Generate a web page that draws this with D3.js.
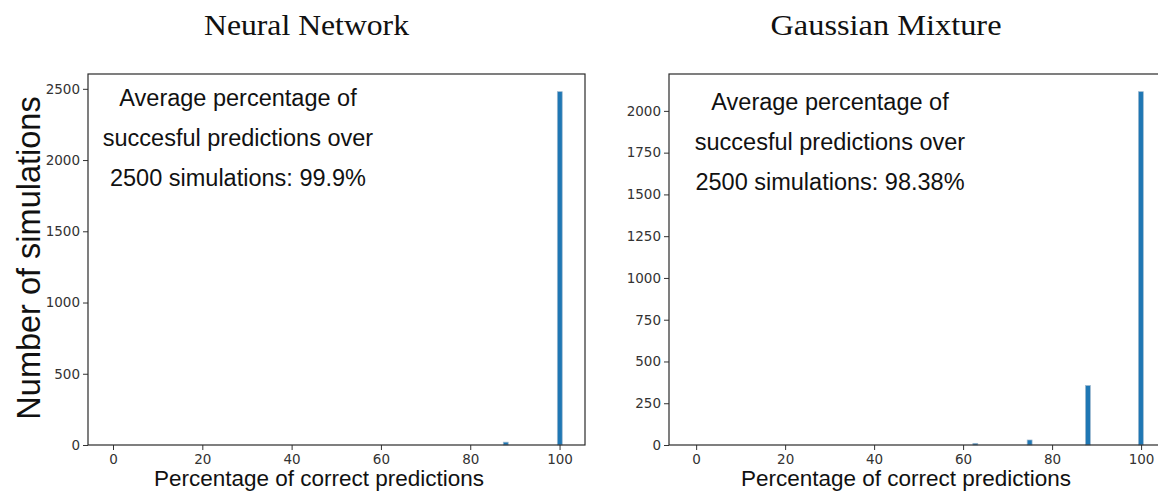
<!DOCTYPE html>
<html>
<head>
<meta charset="utf-8">
<script src="https://cdn.jsdelivr.net/npm/d3@7"></script>
<style>
  body { margin: 0; background: #fff; }
  svg { display: block; }
  .tick text { font-family: 'DejaVu Sans', sans-serif; font-size: 13.5px; fill: #333; }
</style>
</head>
<body>
<svg width="1158" height="491"></svg>
<script>
// values
const xTicks = [0, 20, 40, 60, 80, 100];
const binWidth = 1.1;

const nnTitle = "Neural Network";
const nnBinStarts = [87.4, 99.5];
const nnCounts = [20, 2480];
const nnYTicks = [0, 500, 1000, 1500, 2000, 2500];
const nnNote = ["Average percentage of", "succesful predictions over", "2500 simulations: 99.9%"];

const gmTitle = "Gaussian Mixture";
const gmBinStarts = [62.2, 74.4, 87.5, 99.4];
const gmCounts = [10, 30, 356, 2115];
const gmYTicks = [0, 250, 500, 750, 1000, 1250, 1500, 1750, 2000];
const gmNote = ["Average percentage of", "succesful predictions over", "2500 simulations: 98.38%"];

const xLabel = "Percentage of correct predictions";
const yLabel = "Number of simulations";

const svg = d3.select("svg");
const SANS = "'Liberation Sans', Arial, sans-serif";

function panel(cfg){
    // one histogram panel, box given in pixels
    const x = d3.scaleLinear().domain(cfg.xDomain).range([cfg.left, cfg.right]);
    const y = d3.scaleLinear().domain([0, d3.max(cfg.counts) * 1.05]).range([cfg.bottom, cfg.top]);

    const g = svg.append("g");

    const bins = cfg.starts.map((s, i) => ({x0: s, x1: s + binWidth, n: cfg.counts[i]}));
    g.selectAll("rect.bar").data(bins).enter().append("rect")
        .attr("class", "bar")
        .attr("x", d => x(d.x0))
        .attr("width", d => x(d.x1) - x(d.x0))
        .attr("y", d => y(d.n))
        .attr("height", d => y(0) - y(d.n))
        .attr("fill", "#1f77b4")
        .attr("stroke", "#9fb9cf")
        .attr("stroke-width", 0.7);

    const xAxis = g.append("g")
        .attr("transform", `translate(0,${cfg.bottom})`)
        .call(d3.axisBottom(x).tickValues(xTicks).tickFormat(d3.format("d")).tickSize(5).tickPadding(4));
    const yAxis = g.append("g")
        .attr("transform", `translate(${cfg.left},0)`)
        .call(d3.axisLeft(y).tickValues(cfg.yTicks).tickFormat(d3.format("d")).tickSize(5).tickPadding(3));
    [xAxis, yAxis].forEach(a => {
        a.attr("font-size", 13.5).attr("font-family", "'DejaVu Sans', sans-serif");
        a.select(".domain").remove();
        a.selectAll("line").attr("stroke", "#333").attr("stroke-width", 1);
    });

    // frame
    g.append("rect")
        .attr("x", cfg.left).attr("y", cfg.top)
        .attr("width", cfg.right - cfg.left).attr("height", cfg.bottom - cfg.top)
        .attr("fill", "none").attr("stroke", "#2a2a2a").attr("stroke-width", 1.2);

    svg.append("text")
        .text(cfg.title)
        .attr("x", cfg.titleX).attr("y", 35)
        .attr("text-anchor", "middle")
        .attr("textLength", cfg.titleLen)
        .attr("lengthAdjust", "spacingAndGlyphs")
        .style("font-family", "'Liberation Serif', 'Times New Roman', serif")
        .style("font-size", "29px")
        .attr("fill", "#111");

    cfg.note.forEach((line, i) => {
        svg.append("text")
            .text(line)
            .attr("x", cfg.noteX).attr("y", cfg.noteY + i * 40)
            .attr("text-anchor", "middle")
            .style("font-family", SANS)
            .style("font-size", "23.5px")
            .attr("fill", "#111");
    });

    svg.append("text")
        .text(xLabel)
        .attr("x", cfg.xLabelX).attr("y", 486)
        .attr("text-anchor", "middle")
        .style("font-family", SANS)
        .style("font-size", "22.5px")
        .attr("fill", "#111");
}

panel({
    left: 88, right: 585, top: 74, bottom: 445,
    xDomain: [-5.6, 105.7],
    starts: nnBinStarts, counts: nnCounts, yTicks: nnYTicks,
    title: nnTitle, titleX: 306.5, titleLen: 205,
    note: nnNote, noteX: 238, noteY: 106,
    xLabelX: 319
});

panel({
    left: 669, right: 1166, top: 74, bottom: 445,
    xDomain: [-6.1, 105.6],
    starts: gmBinStarts, counts: gmCounts, yTicks: gmYTicks,
    title: gmTitle, titleX: 886, titleLen: 231,
    note: gmNote, noteX: 830, noteY: 109.5,
    xLabelX: 906
});

svg.append("text")
    .text(yLabel)
    .attr("transform", "translate(40,258) rotate(-90)")
    .attr("text-anchor", "middle")
    .style("font-family", SANS)
    .style("font-size", "32.5px")
    .attr("fill", "#111");
</script>
</body>
</html>
